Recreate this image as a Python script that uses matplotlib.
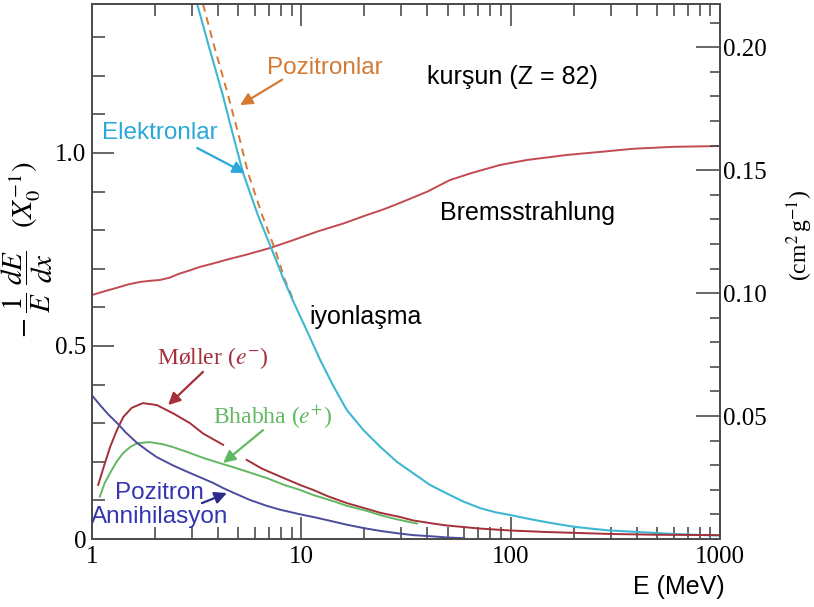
import numpy as np
import matplotlib
matplotlib.use("Agg")
import matplotlib.pyplot as plt
from matplotlib.ticker import FixedLocator, MultipleLocator, NullFormatter

## fractional energy loss per radiation length in lead
E_ion_e = [3.18, 3.6, 4.2, 4.7, 5.27, 6.2, 7.24, 8.2, 9.16, 10.6, 12.3, 14.2, 16.5, 19.8,
           23.8, 28.6, 34.3, 41.2, 49.5, 59.4, 71.4, 85, 100, 120, 140, 170, 199, 250, 300,
           380, 479, 600, 750, 1000]
ion_e = [1.386, 1.28, 1.153, 1.05, 0.948, 0.839, 0.749, 0.675, 0.615, 0.541, 0.464, 0.397,
         0.334, 0.282, 0.239, 0.200, 0.170, 0.140, 0.118, 0.097, 0.080, 0.069, 0.062, 0.053,
         0.046, 0.038, 0.032, 0.026, 0.022, 0.019, 0.016, 0.013, 0.011, 0.009]

E_ion_p = [3.39, 3.82, 4.45, 5.0, 5.57, 6.5, 7.5, 8.35, 9.2]
ion_p = [1.386, 1.28, 1.153, 1.05, 0.948, 0.839, 0.749, 0.671, 0.617]

E_brems = [1, 1.15, 1.3, 1.5, 1.7, 1.9, 2.11, 2.35, 2.6, 2.9, 3.28, 3.8, 4.5, 5.5, 7.1, 9,
           12, 16, 20, 25, 30, 40, 51.3, 65, 89, 120, 186, 270, 385, 600, 1000]
brems = [0.632, 0.642, 0.650, 0.660, 0.666, 0.669, 0.671, 0.677, 0.687, 0.695, 0.705, 0.714,
         0.725, 0.737, 0.754, 0.773, 0.797, 0.818, 0.837, 0.855, 0.872, 0.900, 0.930, 0.948,
         0.969, 0.982, 0.995, 1.003, 1.011, 1.016, 1.018]

E_moller = [1.07, 1.15, 1.22, 1.31, 1.41, 1.55, 1.75, 2.04, 2.45, 2.94, 3.4, 4.23, np.nan,
            5.48, 6.5, 7.91, 9.86, 11.4, 13.5, 16.5, 20, 23.8, 29.6, 34.3, 42.6, 49.5, 71.4,
            100, 150, 200, 300, 500, 1000]
moller = [0.140, 0.195, 0.238, 0.280, 0.316, 0.340, 0.352, 0.347, 0.325, 0.300, 0.273, 0.244,
          np.nan, 0.205, 0.182, 0.162, 0.140, 0.127, 0.110, 0.093, 0.080, 0.068, 0.057, 0.048,
          0.040, 0.035, 0.027, 0.022, 0.018, 0.016, 0.013, 0.011, 0.010]

E_bhabha = [1.09, 1.15, 1.22, 1.31, 1.41, 1.52, 1.64, 1.89, 2.2, 2.44, 2.9, 3.4, 4.0, 4.73,
            5.69, 6.83, 8.3, 9.86, 11.4, 14.2, 16.5, 20.5, 23.8, 28, 35.7]
bhabha = [0.110, 0.145, 0.171, 0.200, 0.223, 0.238, 0.248, 0.251, 0.245, 0.238, 0.224, 0.210,
          0.198, 0.186, 0.172, 0.158, 0.140, 0.127, 0.114, 0.098, 0.086, 0.073, 0.062, 0.052,
          0.040]

E_annih = [1.0, 1.1, 1.2, 1.32, 1.45, 1.64, 1.85, 2.04, 2.45, 2.94, 3.28, 3.8, 4.23, 4.73,
           5.69, 6.83, 7.91, 9.86, 11.4, 13.5, 16.5, 20, 23.8, 29.6, 34.3, 42, 49.5, 60]
annih = [0.372, 0.345, 0.322, 0.300, 0.276, 0.249, 0.228, 0.212, 0.190, 0.171, 0.160, 0.145,
         0.132, 0.120, 0.101, 0.086, 0.076, 0.064, 0.057, 0.048, 0.037, 0.028, 0.021, 0.014,
         0.010, 0.007, 0.004, 0.002]

X0_pb = 6.37   # g/cm^2
y_top = 1.386

c_cyan = '#3fb7d2'
c_orange = '#d57a32'
c_brems = '#c24a50'
c_moller = '#a3303a'
c_green = '#62b862'
c_blue = '#4c4c9c'
spine_c = '#4d4d4d'

plt.rcParams['mathtext.fontset'] = 'stix'
serif = ['Liberation Serif', 'DejaVu Serif']
sans = ['Liberation Sans', 'DejaVu Sans']

fig = plt.figure(figsize=(8.14, 6.07), dpi=100)
ax = fig.add_axes([92/814, 1-539/607, (720-92)/814, (539-4)/607])

ax.plot(E_brems, brems, color=c_brems, lw=1.4)
ax.plot(E_ion_p, ion_p, color=c_orange, lw=1.4, ls=(0, (4, 3)))
ax.plot(E_ion_e, ion_e, color=c_cyan, lw=1.5)
ax.plot(E_moller, moller, color=c_moller, lw=1.4)
ax.plot(E_bhabha, bhabha, color=c_green, lw=1.4)
ax.plot(E_annih, annih, color=c_blue, lw=1.4)

ax.set_xscale('log')
ax.set_xlim(1, 1000)
ax.set_ylim(0, y_top)
ax.set_xticks([1, 10, 100, 1000])
ax.set_xticklabels(['1', '10', '100', '1000'])
ax.xaxis.set_minor_formatter(NullFormatter())
ax.yaxis.set_major_locator(FixedLocator([0, 0.5, 1.0]))
ax.set_yticklabels(['0', '0.5', '1.0'])
ax.yaxis.set_minor_locator(MultipleLocator(0.1))

for lab in ax.get_xticklabels() + ax.get_yticklabels():
    lab.set_family(serif)
    lab.set_fontsize(18)

ax.tick_params(which='both', direction='in', top=True, right=False, color=spine_c, width=1.2)
ax.tick_params(axis='x', which='major', length=16, pad=5)
ax.tick_params(axis='x', which='minor', length=8.5)
ax.tick_params(axis='y', which='major', length=16, pad=4)
ax.tick_params(axis='y', which='minor', length=9)
for s in ax.spines.values():
    s.set_color(spine_c)
    s.set_linewidth(1.3)

ax2 = ax.twinx()
ax2.set_ylim(0, y_top / X0_pb)
ax2.yaxis.set_major_locator(FixedLocator([0.05, 0.10, 0.15, 0.20]))
ax2.set_yticklabels(['0.05', '0.10', '0.15', '0.20'])
ax2.yaxis.set_minor_locator(MultipleLocator(0.01))
ax2.tick_params(which='both', direction='in', color=spine_c, width=1.2)
ax2.tick_params(which='major', length=17, pad=2)
ax2.tick_params(which='minor', length=7)
for lab in ax2.get_yticklabels():
    lab.set_family(serif)
    lab.set_fontsize(18)
for s in ax2.spines.values():
    s.set_color(spine_c)
    s.set_linewidth(1.3)

# axis labels
fig.text(27/814, 1-250/607, r'$-\;\dfrac{1}{E}\;\dfrac{dE}{dx}\quad(X_0^{-1})$',
         rotation=90, ha='center', va='center', fontsize=21)
fig.text(800/814, 1-235/607, r'(cm$^2\,$g$^{-1}$)', family=serif,
         rotation=90, ha='center', va='center', fontsize=17)
fig.text(725/814, 1-587/607, 'E (MeV)', family=sans, ha='right', va='center', fontsize=18)

# labels and arrows
def arrow(xy_from, xy_to, col):
    ax.annotate('', xy=xy_to, xytext=xy_from,
                arrowprops=dict(arrowstyle='-|>', color=col, lw=1.6, mutation_scale=18,
                                shrinkA=0, shrinkB=0))

ax.text(13.0, 1.220, 'Pozitronlar', color=c_orange, family=sans, fontsize=17.5,
        ha='center', va='center')
arrow((8.1, 1.19), (5.1, 1.124), c_orange)

ax.text(101.6, 1.197, 'kurşun (Z = 82)', color='black', family=sans, fontsize=18,
        ha='center', va='center')

ax.text(2.11, 1.052, 'Elektronlar', color='#2aa8d8', family=sans, fontsize=17.5,
        ha='center', va='center')
arrow((3.18, 1.013), (5.38, 0.948), '#2aa8d8')

ax.text(121, 0.845, 'Bremsstrahlung', color='black', family=sans, fontsize=18,
        ha='center', va='center')
ax.text(20.2, 0.575, 'iyonlaşma', color='black', family=sans, fontsize=18,
        ha='center', va='center')

ax.text(3.79, 0.469, r'Møller ($e^{-}$)', color=c_moller, family=serif, fontsize=17,
        ha='center', va='center')
arrow((3.39, 0.433), (2.31, 0.347), c_moller)

ax.text(7.32, 0.316, r'Bhabha ($e^{+}$)', color=c_green, family=serif, fontsize=17,
        ha='center', va='center')
arrow((6.56, 0.282), (4.23, 0.197), c_green)

ax.text(2.11, 0.088, 'Pozitron\nAnnihilasyon', color='#3535b0', family=sans, fontsize=17.5,
        ha='center', va='center', linespacing=1.1)
arrow((3.35, 0.093), (4.41, 0.119), '#2c2c8c')

fig.savefig('out.png', dpi=100)
